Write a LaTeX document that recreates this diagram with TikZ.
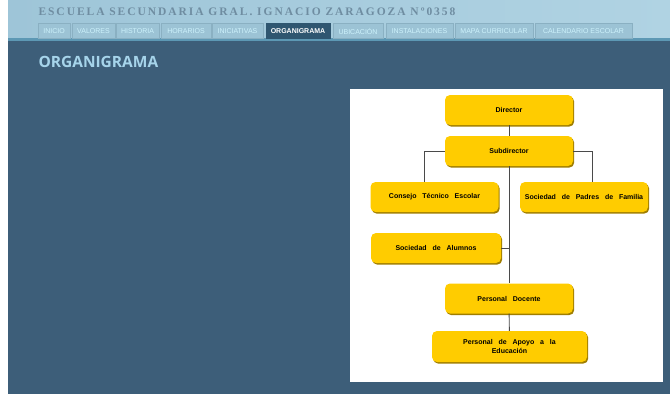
\documentclass[tikz,border=0pt]{standalone}
\usepackage{fontspec}
\setmainfont{Liberation Sans}
\newfontfamily\boxfont[WordSpace=3]{Liberation Sans}
\newfontfamily\titlefont[LetterSpace=17]{Liberation Serif}
\newfontfamily\headfont{Open Sans}
\usetikzlibrary{shadows}
\definecolor{panel}{HTML}{3D5E79}
\definecolor{headbg}{HTML}{9EC5D8}
\definecolor{headbgl}{HTML}{B0D3E3}
\definecolor{titlecol}{HTML}{6F8DA1}
\definecolor{tabfill}{HTML}{9CC3D5}
\definecolor{tabline}{HTML}{8AB0C2}
\definecolor{tabtext}{HTML}{CDF2FC}
\definecolor{tabact}{HTML}{2F5670}
\definecolor{barline}{HTML}{5D98B4}
\definecolor{headtext}{HTML}{A6D4EA}
\definecolor{boxgold}{HTML}{FFCC00}
\definecolor{boxshade}{HTML}{A07E00}
\definecolor{wire}{HTML}{4A4A4A}

\begin{document}
\begin{tikzpicture}
[x=1pt,y=-1pt,
orgbox/.style={rectangle,rounded corners=5pt,fill=boxgold,draw=none,
  drop shadow={shadow xshift=1.2pt,shadow yshift=-1.6pt,fill=boxshade,opacity=1},
  minimum width=128pt,minimum height=30pt,inner sep=2pt,align=center,
  font=\boxfont\bfseries\fontsize{7}{8.5}\selectfont},
tab/.style={rectangle,fill=tabfill,draw=tabline,line width=0.8pt,minimum height=15pt,
  inner sep=0pt,text=tabtext,font=\fontsize{7}{7}\selectfont},
wire/.style={draw=wire,line width=0.9pt}]
\useasboundingbox (0,0) rectangle (670,394);
% page and header
\fill[white] (0,0) rectangle (670,394);
\shade[left color=headbg,right color=headbgl] (8,0) rectangle (670,39);
\fill[barline] (8,38) rectangle (670,41);
\fill[panel] (8,41) rectangle (670,394);
\node[anchor=west,text=titlecol,font=\titlefont\bfseries\fontsize{11.5}{13}\selectfont]
  (title) at (35,12) {ESCUELA SECUNDARIA GRAL. IGNACIO ZARAGOZA Nº0358};
% menu tabs
\foreach \cx/\w/\txt/\nm in {54/32/INICIO/t1,93.5/43/VALORES/t2,137.5/43/HISTORIA/t3,
  186/50/HORARIOS/t4,237.5/51/INICIATIVAS/t5,358/50/UBICACIÓN/t7,
  419.5/67/INSTALACIONES/t8,494/78/MAPA CURRICULAR/t9,583.5/97/CALENDARIO ESCOLAR/t10}
  \node[tab,minimum width=\w pt] (\nm) at (\cx,31) {\txt};
\node[tab,minimum width=64pt,fill=tabact,draw=tabact,text=white,
  font=\bfseries\fontsize{7}{7}\selectfont] (t6) at (298,31) {ORGANIGRAMA};
\node[anchor=west,text=headtext,font=\headfont\bfseries\fontsize{15.5}{17}\selectfont]
  (heading) at (35,62) {ORGANIGRAMA};
% chart
\fill[white] (350,89) rectangle (663,382);
\node[orgbox] at (509,110) (dir) {Director};
\node[orgbox] at (509,151) (sub) {Subdirector};
\node[orgbox] at (434.5,197) (cte) {Consejo Técnico Escolar};
\node[orgbox] at (584,197) (spf) {Sociedad de Padres de Familia};
\node[orgbox,minimum width=130pt] at (436,248) (alu) {Sociedad de Alumnos};
\node[orgbox] at (509,298.5) (doc) {Personal Docente};
\node[orgbox,minimum width=155pt,minimum height=31pt] at (509.5,346.5) (apo)
  {Personal de Apoyo a la\\Educación};
\draw[wire] (dir) -- (sub);
\draw[wire] (sub.west) -| ([xshift=-10pt]cte.north);
\draw[wire] (sub.east) -| ([xshift=8pt]spf.north);
\draw[wire] (sub.south) -- (doc.north);
\draw[wire] (alu.east) -- (alu.east -| sub.south);
\draw[wire] (doc) -- (apo);
\end{tikzpicture}
\end{document}
